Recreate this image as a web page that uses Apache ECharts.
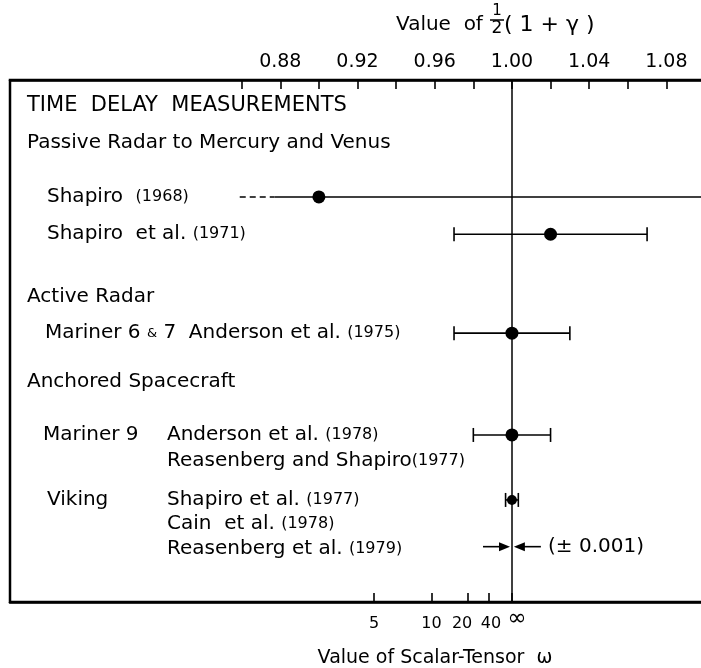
<!DOCTYPE html>
<html>
<head>
<meta charset="utf-8">
<script src="https://cdn.jsdelivr.net/npm/echarts@6/dist/echarts.min.js"></script>
<style>
  html, body { margin: 0; padding: 0; background: #fff; }
  #chart { width: 701px; height: 668px; }
</style>
</head>
<body>
<div id="chart"></div>
<script>
// value of (1+γ)/2 for each time delay measurement
const studies = ['Shapiro (1968)', 'Shapiro et al. (1971)', 'Mariner 6 & 7 Anderson et al. (1975)',
  'Mariner 9 Anderson et al. (1978)', 'Viking Shapiro et al. (1977)', 'Viking Reasenberg et al. (1979)']
const best = [0.90, 1.02, 1.00, 1.00, 1.00, 1.00]
const lower = [0.877, 0.97, 0.97, 0.98, 0.9967, 0.999]
const upper = [1.12, 1.07, 1.03, 1.02, 1.0033, 1.001]
const studyRow = [4.48, 5.91, 9.70, 13.6, 16.09, 17.88]
const shapiroTail = 0.859 // dashed lower tail of Shapiro (1968)

// axis ticks
const topTicks = [0.86, 0.88, 0.90, 0.92, 0.94, 0.96, 0.98, 1.00, 1.02, 1.04, 1.06, 1.08]
const topLabels = [0.88, 0.92, 0.96, 1.00, 1.04, 1.08]
const omegaTicks = [5, 10, 20, 40, Infinity]
const omegaLabels = ['5', '10', '20', '40', '∞']

// (1+γ)/2 for scalar-tensor ω
function fromOmega(w) {
  return isFinite(w) ? (3 + 2 * w) / (4 + 2 * w) : 1
}
const omegaPos = omegaTicks.map(fromOmega)

const FONT = 'DejaVu Sans'
const chart = echarts.init(document.getElementById('chart'))

function renderStudy(params, api) {
  const i = api.value(4)
  const y = api.coord([1, api.value(3)])[1]
  const xc = api.coord([api.value(0), 0])[0]
  const xl = api.coord([api.value(1), 0])[0]
  const xr = api.coord([api.value(2), 0])[0]
  const stroke = { stroke: '#000', lineWidth: 1.6 }
  const kids = []
  if (i === 5) {
    // arrows pointing at ±0.001
    const len = 27
    kids.push({ type: 'line', shape: { x1: xl - len, y1: y, x2: xl - 6, y2: y }, style: stroke })
    kids.push({ type: 'polygon', shape: { points: [[xl, y], [xl - 11, y - 4.5], [xl - 11, y + 4.5]] }, style: { fill: '#000' } })
    kids.push({ type: 'line', shape: { x1: xr + 6, y1: y, x2: xr + len, y2: y }, style: stroke })
    kids.push({ type: 'polygon', shape: { points: [[xr, y], [xr + 11, y - 4.5], [xr + 11, y + 4.5]] }, style: { fill: '#000' } })
    return { type: 'group', children: kids }
  }
  kids.push({ type: 'line', shape: { x1: xl, y1: y, x2: xr, y2: y }, style: stroke })
  if (i === 0) {
    const xt = api.coord([shapiroTail, 0])[0]
    kids.push({ type: 'line', shape: { x1: xt, y1: y, x2: xl, y2: y }, style: { stroke: '#000', lineWidth: 1.6, lineDash: [6, 4] } })
  } else {
    const h = 7
    kids.push({ type: 'line', shape: { x1: xl, y1: y - h, x2: xl, y2: y + h }, style: stroke })
    kids.push({ type: 'line', shape: { x1: xr, y1: y - h, x2: xr, y2: y + h }, style: stroke })
  }
  const r = i === 4 ? 5 : 6.5
  kids.push({ type: 'circle', shape: { cx: xc, cy: y, r: r }, style: { fill: '#000' } })
  return { type: 'group', children: kids }
}

chart.setOption({
  animation: false,
  backgroundColor: '#fff',
  grid: {
    left: 10,
    top: 80,
    width: 695,
    height: 522,
    outerBoundsMode: 'none',
    containLabel: false,
    show: true,
    borderColor: '#000',
    borderWidth: 2.5
  },
  xAxis: [
    {
      type: 'value',
      position: 'top',
      min: 0.74,
      max: 1.10,
      interval: 0.02,
      axisLine: { lineStyle: { color: '#000', width: 2.5 } },
      axisTick: { inside: true, length: 9, customValues: topTicks, lineStyle: { color: '#000', width: 1.6 } },
      axisLabel: {
        customValues: topLabels,
        formatter: v => v.toFixed(2),
        color: '#000',
        fontFamily: FONT,
        fontSize: 19,
        margin: 8
      },
      splitLine: { show: false }
    },
    {
      type: 'value',
      position: 'bottom',
      min: 0.74,
      max: 1.10,
      interval: 0.02,
      axisLine: { lineStyle: { color: '#000', width: 2.5 } },
      axisTick: { inside: true, length: 9, customValues: omegaPos, lineStyle: { color: '#000', width: 1.6 } },
      axisLabel: {
        customValues: omegaPos,
        formatter: v => {
          let k = 0
          omegaPos.forEach((p, j) => { if (Math.abs(p - v) < Math.abs(omegaPos[k] - v)) k = j })
          const sty = ['n', 'n', 'l', 'r', 'inf'][k]
          return '{' + sty + '|' + omegaLabels[k] + '}'
        },
        color: '#000',
        fontFamily: FONT,
        fontSize: 16,
        margin: 6,
        rich: {
          n: { fontFamily: FONT, fontSize: 16, color: '#000', padding: [8, 0, 0, 0] },
          l: { fontFamily: FONT, fontSize: 16, color: '#000', padding: [8, 12, 0, 0] },
          r: { fontFamily: FONT, fontSize: 16, color: '#000', padding: [8, 0, 0, 4] },
          inf: { fontFamily: FONT, fontSize: 23, color: '#000', padding: [0, 0, 0, 10] }
        }
      },
      splitLine: { show: false }
    }
  ],
  yAxis: {
    type: 'value',
    inverse: true,
    min: 0,
    max: 20,
    show: false
  },
  series: [
    {
      type: 'custom',
      name: 'measurements',
      xAxisIndex: 0,
      clip: true,
      renderItem: renderStudy,
      data: studies.map((s, i) => [best[i], lower[i], upper[i], studyRow[i], i]),
      markLine: {
        silent: true,
        symbol: 'none',
        label: { show: false },
        lineStyle: { color: '#000', width: 1.5, type: 'solid' },
        data: [{ xAxis: 1 }]
      }
    }
  ]
})

// text block on the left, placed on the same rows as the data
const rowY = r => chart.convertToPixel({ yAxisIndex: 0 }, r)
const txtStyle = {
  fontFamily: FONT,
  fill: '#000',
  fontSize: 20,
  verticalAlign: 'middle',
  rich: {
    yr: { fontFamily: FONT, fontSize: 16, fill: '#000' },
    sm: { fontFamily: FONT, fontSize: 13, fill: '#000' },
    cap: { fontFamily: FONT, fontSize: 21, fill: '#000' }
  }
}
const textLines = [
  { x: 27, row: 0.96, text: '{cap|TIME  DELAY  MEASUREMENTS}' },
  { x: 27, row: 2.41, text: 'Passive Radar to Mercury and Venus' },
  { x: 47, row: 4.48, text: 'Shapiro  {yr|(1968)}' },
  { x: 47, row: 5.91, text: 'Shapiro  et al. {yr|(1971)}' },
  { x: 27, row: 8.31, text: 'Active Radar' },
  { x: 45, row: 9.70, text: 'Mariner 6 {sm|&} 7  Anderson et al. {yr|(1975)}' },
  { x: 27, row: 11.57, text: 'Anchored Spacecraft' },
  { x: 43, row: 13.6, text: 'Mariner 9' },
  { x: 167, row: 13.6, text: 'Anderson et al. {yr|(1978)}' },
  { x: 167, row: 14.6, text: 'Reasenberg and Shapiro{yr|(1977)}' },
  { x: 47, row: 16.09, text: 'Viking' },
  { x: 167, row: 16.09, text: 'Shapiro et al. {yr|(1977)}' },
  { x: 167, row: 17.0, text: 'Cain  et al. {yr|(1978)}' },
  { x: 167, row: 17.95, text: 'Reasenberg et al. {yr|(1979)}' },
  { x: 548, row: 17.88, text: '(± 0.001)' }
]

const graphics = textLines.map(t => ({
  type: 'text',
  x: t.x,
  y: rowY(t.row),
  style: Object.assign({}, txtStyle, { text: t.text })
}))

// axis titles
graphics.push(
  { type: 'text', x: 396, y: 25, style: { text: 'Value  of', fontFamily: FONT, fontSize: 20, fill: '#000', verticalAlign: 'middle' } },
  { type: 'text', x: 497, y: 11, style: { text: '1', fontFamily: FONT, fontSize: 15, fill: '#000', align: 'center', verticalAlign: 'middle' } },
  { type: 'line', shape: { x1: 490, y1: 20, x2: 504, y2: 20 }, style: { stroke: '#000', lineWidth: 1.5 } },
  { type: 'text', x: 497, y: 29, style: { text: '2', fontFamily: FONT, fontSize: 17, fill: '#000', align: 'center', verticalAlign: 'middle' } },
  { type: 'text', x: 504, y: 25, style: { text: '( 1 + γ )', fontFamily: FONT, fontSize: 22, fill: '#000', verticalAlign: 'middle' } },
  { type: 'text', x: 435, y: 658, style: { text: 'Value of Scalar-Tensor  ω', fontFamily: FONT, fontSize: 19, fill: '#000', align: 'center', verticalAlign: 'middle' } }
)

chart.setOption({ graphic: graphics })
</script>
</body>
</html>
